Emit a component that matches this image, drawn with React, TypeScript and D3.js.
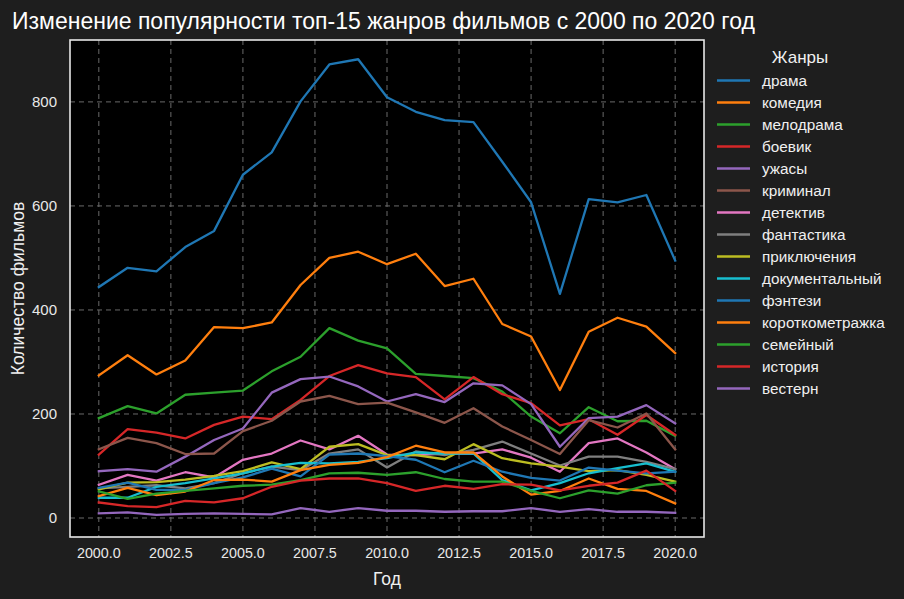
import React from "react";
import * as d3 from "d3";

const years = d3.range(2000, 2021);

const genres = [
  "драма", "комедия", "мелодрама", "боевик", "ужасы", "криминал", "детектив",
  "фантастика", "приключения", "документальный", "фэнтези", "короткометражка",
  "семейный", "история", "вестерн",
];

const drama = [444, 481, 474, 521, 552, 660, 703, 801, 872, 882, 809, 781, 765, 761, 685, 607, 431, 613, 607, 621, 495];
const comedy = [274, 313, 276, 303, 367, 365, 376, 448, 500, 512, 488, 508, 446, 460, 373, 349, 246, 358, 385, 368, 317];
const melodrama = [192, 215, 201, 237, 241, 245, 282, 310, 365, 341, 326, 277, 273, 269, 243, 195, 163, 213, 186, 187, 158];
const action = [122, 171, 164, 153, 179, 195, 190, 227, 273, 294, 278, 271, 228, 271, 238, 221, 178, 190, 160, 198, 160];
const horror = [90, 94, 89, 118, 150, 172, 241, 267, 272, 253, 224, 238, 223, 259, 255, 219, 137, 192, 195, 217, 182];
const crime = [132, 154, 144, 123, 124, 167, 187, 224, 235, 219, 222, 203, 183, 211, 176, 150, 123, 188, 174, 201, 132];
const detective = [64, 83, 72, 88, 78, 112, 124, 149, 132, 158, 122, 121, 124, 124, 132, 116, 89, 144, 153, 126, 94];
const scifi = [57, 60, 63, 57, 67, 86, 99, 92, 124, 132, 97, 128, 121, 131, 147, 124, 101, 118, 118, 108, 94];
const adventure = [55, 68, 69, 74, 81, 90, 107, 94, 137, 142, 121, 121, 113, 142, 115, 105, 99, 90, 92, 83, 70];
const documentary = [39, 39, 60, 67, 76, 86, 99, 106, 105, 108, 115, 126, 124, 124, 73, 53, 67, 86, 96, 105, 89];
const fantasy = [58, 68, 54, 54, 67, 78, 95, 80, 122, 124, 119, 112, 88, 110, 89, 77, 72, 97, 91, 86, 89];
const shortFilm = [42, 58, 44, 51, 73, 74, 70, 92, 102, 106, 117, 139, 126, 126, 80, 45, 52, 76, 56, 52, 28];
const family = [51, 37, 47, 52, 57, 62, 64, 73, 86, 87, 83, 88, 75, 70, 70, 52, 38, 53, 47, 63, 68];
const history = [30, 23, 21, 33, 30, 38, 60, 72, 76, 76, 67, 52, 62, 56, 65, 64, 53, 62, 68, 91, 52];
const western = [9, 11, 6, 8, 9, 8, 7, 19, 12, 19, 14, 14, 12, 13, 13, 19, 12, 17, 12, 12, 10];

const seriesValues = [
  drama, comedy, melodrama, action, horror, crime, detective, scifi,
  adventure, documentary, fantasy, shortFilm, family, history, western,
];

const xTicks = [2000, 2002.5, 2005, 2007.5, 2010, 2012.5, 2015, 2017.5, 2020];
const yTicks = [0, 200, 400, 600, 800];

const title = "Изменение популярности топ-15 жанров фильмов с 2000 по 2020 год";
const xLabel = "Год";
const yLabel = "Количество фильмов";
const legendTitle = "Жанры";

const palette = ["#1f77b4", "#ff7f0e", "#2ca02c", "#d62728", "#9467bd", "#8c564b", "#e377c2", "#7f7f7f", "#bcbd22", "#17becf"];

export default function App() {
  const W = 904, H = 599;
  const left = 70, right = 704, top = 40, bottom = 537;
  const x = d3.scaleLinear().domain([1999, 2021]).range([left, right]);
  const y = d3.scaleLinear().domain([-36.5, 919]).range([bottom, top]);
  const line = d3.line<number>().x((_, i) => x(years[i])).y((d) => y(d));
  const font = "'Liberation Sans', Arial, sans-serif";
  const tickColor = "#e8e8e8";

  return (
    <svg width={W} height={H} style={{ position: "absolute", left: 0, top: 0, background: "#1e1e1e" }} fontFamily={font}>
      <rect x={0} y={0} width={W} height={H} fill="#1e1e1e" />
      <rect x={left} y={top} width={right - left} height={bottom - top} fill="#000" />
      {xTicks.map((t) => (
        <line key={"gx" + t} x1={x(t)} x2={x(t)} y1={top} y2={bottom} stroke="#6a6a6a" strokeWidth={1} strokeDasharray="5,4" />
      ))}
      {yTicks.map((t) => (
        <line key={"gy" + t} x1={left} x2={right} y1={y(t)} y2={y(t)} stroke="#6a6a6a" strokeWidth={1} strokeDasharray="5,4" />
      ))}
      {seriesValues.map((vals, i) => (
        <path key={genres[i]} d={line(vals) || ""} fill="none" stroke={palette[i % 10]} strokeWidth={2.3} strokeLinejoin="round" strokeLinecap="square" />
      ))}
      <rect x={left} y={top} width={right - left} height={bottom - top} fill="none" stroke="#e6e6e6" strokeWidth={1.6} />
      {xTicks.map((t) => (
        <text key={"tx" + t} x={x(t)} y={bottom + 21} fill={tickColor} fontSize={14.3} textAnchor="middle">{t.toFixed(1)}</text>
      ))}
      {yTicks.map((t) => (
        <text key={"ty" + t} x={left - 13} y={y(t) + 5} fill={tickColor} fontSize={15} textAnchor="end">{t}</text>
      ))}
      <text x={(left + right) / 2} y={585} fill="#f0f0f0" fontSize={17.5} textAnchor="middle">{xLabel}</text>
      <text transform={`translate(24,${(top + bottom) / 2}) rotate(-90)`} fill="#f0f0f0" fontSize={17.5} textAnchor="middle">{yLabel}</text>
      <text x={12} y={29} fill="#ffffff" fontSize={23}>{title}</text>
      <text x={800} y={63} fill="#f0f0f0" fontSize={17} textAnchor="middle">{legendTitle}</text>
      {genres.map((g, i) => (
        <g key={"lg" + g} transform={`translate(0,${80.5 + i * 22})`}>
          <line x1={717} x2={750} y1={0} y2={0} stroke={palette[i % 10]} strokeWidth={2.3} />
          <text x={762} y={5.5} fill="#f0f0f0" fontSize={15.3}>{g}</text>
        </g>
      ))}
    </svg>
  );
}
